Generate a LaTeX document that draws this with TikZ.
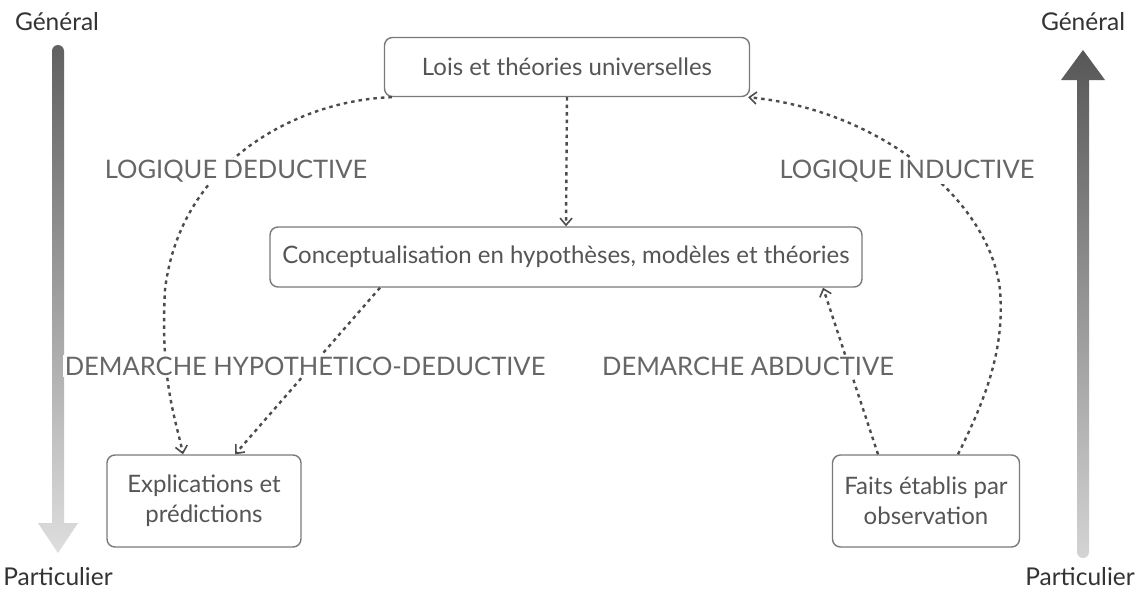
\documentclass[tikz,border=0pt]{standalone}
\usepackage{fontspec}
\setmainfont{Lato}
\usetikzlibrary{arrows.meta}
\definecolor{ink}{HTML}{555555}
\definecolor{labelink}{HTML}{666666}
\definecolor{edge}{HTML}{7A7A7A}
\definecolor{wire}{HTML}{4C4C4C}
\begin{document}
\begin{tikzpicture}[x=1pt,y=-1pt,
  box/.style={draw=edge,line width=1.4pt,rounded corners=8pt,fill=white,
    inner sep=0pt,align=center,text=ink,font=\fontsize{24}{30}\selectfont},
  lbl/.style={fill=white,inner sep=2pt,text=labelink,font=\fontsize{25.5}{30}\selectfont},
  pole/.style={text=black!80,font=\fontsize{24.5}{28}\selectfont},
  conn/.style={draw=wire,line width=2.4pt,dash pattern=on 3.5pt off 4pt,
    -{Straight Barb[length=7pt,width=12pt,line width=1.6pt]}}]
\useasboundingbox[fill=white] (0,0) rectangle (1141,590);

% vertical gradient arrows
\shade[top color=black!62,bottom color=black!13]
  (52,523) -- (52,51) arc[start angle=180,end angle=0,radius=6pt]
  -- (64,523) -- (78,523) -- (58,553) -- (38,523) -- cycle;
\shade[top color=black!66,bottom color=black!17]
  (1077,80) -- (1077,552) arc[start angle=180,end angle=360,radius=6pt]
  -- (1089,80) -- (1105,80) -- (1083,50) -- (1061,80) -- cycle;

\node[pole] (g1) at (57,22) {Général};
\node[pole] (g2) at (1083,22) {Général};
\node[pole] (p1) at (58,577) {Particulier};
\node[pole] (p2) at (1080,577) {Particulier};

% boxes
\node[box,minimum width=365pt,minimum height=59pt] (top) at (567,67)
  {Lois et théories universelles};
\node[box,minimum width=592pt,minimum height=60pt] (mid) at (566,257)
  {Conceptualisation en hypothèses, modèles et théories};
\node[box,minimum width=194pt,minimum height=92pt] (expl) at (204,501)
  {Explications et\\prédictions};
\node[box,minimum width=187pt,minimum height=92pt] (faits) at (926,501)
  {Faits établis par\\observation};

% dashed connectors
\draw[conn] ([xshift=8pt]top.south west)
  .. controls (300,100) and (180,160) .. (165,290)
  .. controls (160,380) and (176,420) .. ([xshift=-21pt]expl.north);
\draw[conn] (top.south) -- (mid.north);
\draw[conn] ([xshift=-186pt]mid.south) -- ([xshift=31pt]expl.north);
\draw[conn] ([xshift=-48pt]faits.north) -- ([xshift=257pt]mid.south);
\draw[conn] ([xshift=32pt]faits.north)
  .. controls (985,400) and (1005,350) .. (1000,290)
  .. controls (990,200) and (880,110) .. ([xshift=-2pt]top.south east);

% labels over the connectors
\node[lbl] (ld) at (236,171) {LOGIQUE DEDUCTIVE};
\node[lbl] (li) at (907,171) {LOGIQUE INDUCTIVE};
\node[lbl] (dhd) at (305,366) {DEMARCHE HYPOTHETICO-DEDUCTIVE};
\node[lbl] (da) at (748,366) {DEMARCHE ABDUCTIVE};
\end{tikzpicture}
\end{document}
